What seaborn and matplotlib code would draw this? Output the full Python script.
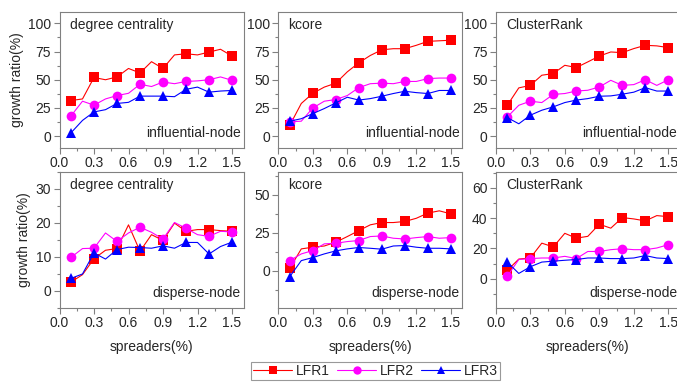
import matplotlib.pyplot as plt
import matplotlib.ticker as mticker
from matplotlib.lines import Line2D
import pandas as pd
import seaborn as sns

# x values: fraction of spreaders (%)
spreaders = [0.1, 0.2, 0.3, 0.4, 0.5, 0.6, 0.7, 0.8, 0.9, 1.0, 1.1, 1.2, 1.3, 1.4, 1.5]
networks = ["LFR1", "LFR2", "LFR3"]

# influential-node, growth ratio (%)
deg_inf_lfr1 = [31.6, 33, 52, 50, 52.5, 60, 56, 66, 60, 72, 73, 72, 74.5, 77, 71]
deg_inf_lfr2 = [18, 31, 27.5, 33, 36, 38, 46, 44, 48, 46.5, 48.5, 49, 50, 52.5, 49.5]
deg_inf_lfr3 = [3, 14, 21.5, 23.5, 29, 30, 35.5, 35.5, 35.5, 35, 41.5, 43.5, 39, 40, 40.5]

kc_inf_lfr1 = [9.7, 29, 38, 43.5, 47, 57, 65, 71.5, 76.5, 77.5, 77.5, 80.5, 84, 84.5, 85]
kc_inf_lfr2 = [12.7, 13.3, 25, 31, 32.5, 36, 43, 46.5, 47, 46.5, 48.5, 48.5, 51, 51.5, 51.5]
kc_inf_lfr3 = [13.3, 15.5, 20, 24.5, 29.5, 34.5, 32, 33.3, 35.4, 37.8, 39.8, 38.6, 37.8, 40.5, 40.5]

cr_inf_lfr1 = [27.4, 42.8, 45, 54, 55.5, 62.8, 60.8, 65.8, 71, 74.6, 74, 77.6, 80.5, 80, 78.5]
cr_inf_lfr2 = [17, 27.4, 31, 29.8, 37, 37.8, 40, 40.7, 43.6, 49.5, 45, 45.7, 50, 45, 50]
cr_inf_lfr3 = [16.5, 11, 18.6, 23, 26, 29.8, 32, 33.3, 35.4, 35.7, 37.2, 39, 43, 40, 40]

# disperse-node, growth ratio (%)
deg_dis_lfr1 = [2.5, 4.7, 9.4, 11.9, 12.4, 19.4, 11.6, 16.5, 14.8, 19.9, 17.5, 18, 18, 17.7, 17.5]
deg_dis_lfr2 = [9.8, 12.4, 12.5, 17, 14.5, 17, 18.7, 17.2, 15.2, 20.1, 18.4, 16.5, 16, 17.5, 17.3]
deg_dis_lfr3 = [3.6, 4.9, 11.1, 9.3, 12.1, 12.8, 12.7, 12.5, 13.2, 12.5, 14.2, 14.2, 10.8, 13, 14.3]

kc_dis_lfr1 = [1.8, 14.5, 15.6, 16.4, 18.9, 22.6, 26.5, 30.3, 31.8, 31.8, 32.5, 34.6, 38, 39.5, 37.5]
kc_dis_lfr2 = [6.8, 11.2, 13.4, 17.8, 18.2, 19.3, 20, 22.6, 23, 21.5, 21, 21.9, 22.6, 21.5, 21.9]
kc_dis_lfr3 = [-3.7, 6.8, 8.8, 11.2, 13.2, 14.5, 15.4, 14.9, 14.3, 16.4, 16.7, 15.6, 14.9, 14.9, 14.5]

cr_dis_lfr1 = [5.5, 13, 13.7, 23.5, 21, 30, 26.8, 28, 36, 33.4, 40.4, 39.5, 38.2, 41.7, 41]
cr_dis_lfr2 = [1.7, 12.7, 13.3, 13.7, 13.7, 14.8, 13.3, 18, 18, 19.2, 19.8, 19.2, 19.2, 20.3, 22.5]
cr_dis_lfr3 = [11, 3.5, 7.9, 11, 11.6, 12.2, 12.7, 13.7, 13.7, 13.3, 13.3, 13.7, 15.3, 13.7, 13.3]

panels = [
    ("degree centrality", "influential-node", (deg_inf_lfr1, deg_inf_lfr2, deg_inf_lfr3), (-10, 110), 25),
    ("kcore", "influential-node", (kc_inf_lfr1, kc_inf_lfr2, kc_inf_lfr3), (-10, 110), 25),
    ("ClusterRank", "influential-node", (cr_inf_lfr1, cr_inf_lfr2, cr_inf_lfr3), (-10, 110), 25),
    ("degree centrality", "disperse-node", (deg_dis_lfr1, deg_dis_lfr2, deg_dis_lfr3), (-5, 35), 10),
    ("kcore", "disperse-node", (kc_dis_lfr1, kc_dis_lfr2, kc_dis_lfr3), (-24, 65), 25),
    ("ClusterRank", "disperse-node", (cr_dis_lfr1, cr_dis_lfr2, cr_dis_lfr3), (-19, 70.5), 20),
]

colors = ["#ff0000", "#ff00ff", "#0000ff"]
markers = ["s", "o", "^"]
edge = "#808080"

sns.set_theme(style="ticks")
plt.rcParams["font.family"] = ["Liberation Sans", "DejaVu Sans"]
plt.rcParams["font.size"] = 9.5

fig = plt.figure(figsize=(6.77, 3.82), dpi=100)
W, H = 677, 382
lefts = [59.5, 278.3, 495.8]
tops = [12, 172]
aw, ah = 184, 135.5

for i, (title, kind, vals, ylim, step) in enumerate(panels):
    row, col = divmod(i, 3)
    ax = fig.add_axes([lefts[col] / W, 1 - (tops[row] + ah) / H, aw / W, ah / H])
    df = pd.DataFrame({
        "spreaders": spreaders * 3,
        "growth": [v for s in vals for v in s],
        "network": [n for n in networks for _ in spreaders],
    })
    sns.lineplot(data=df, x="spreaders", y="growth", hue="network", style="network",
                 palette=colors, markers=markers, dashes=False, markevery=2,
                 markersize=7, markeredgewidth=0, linewidth=0.8, errorbar=None,
                 legend=False, ax=ax)
    ax.set_xlim(0, 1.6)
    ax.set_ylim(*ylim)
    ax.xaxis.set_major_locator(mticker.MultipleLocator(0.3))
    ax.xaxis.set_minor_locator(mticker.MultipleLocator(0.15))
    ax.xaxis.set_major_formatter(mticker.FormatStrFormatter("%.1f"))
    ax.yaxis.set_major_locator(mticker.MultipleLocator(step))
    ax.yaxis.set_minor_locator(mticker.MultipleLocator(step / 2))
    ax.tick_params(which="major", length=4, width=0.8, color=edge, labelsize=10, pad=2)
    ax.tick_params(which="minor", length=2, width=0.8, color=edge)
    for sp in ax.spines.values():
        sp.set_visible(True)
        sp.set_color(edge)
        sp.set_linewidth(0.8)
    ax.text(0.055, 0.955, title, transform=ax.transAxes, ha="left", va="top", fontsize=10)
    ax.text(0.985, 0.105, kind, transform=ax.transAxes, ha="right", va="center", fontsize=10)
    ax.set_ylabel("growth ratio(%)" if col == 0 else "", fontsize=10, labelpad=3)
    ax.set_xlabel("spreaders(%)" if row == 1 else "", fontsize=10, labelpad=7)

handles = [Line2D([], [], color=c, marker=m, markersize=6, markeredgewidth=0, linewidth=0.8)
           for c, m in zip(colors, markers)]
leg = fig.legend(handles, networks, loc="center", bbox_to_anchor=(0.555, 0.029), ncol=3,
                 frameon=True, fancybox=False, fontsize=10, handlelength=2.8,
                 handletextpad=0.3, columnspacing=0.5, borderpad=0.15, borderaxespad=0)
leg.get_frame().set_edgecolor(edge)
leg.get_frame().set_linewidth(0.8)

fig.savefig("out.png", dpi=100)
